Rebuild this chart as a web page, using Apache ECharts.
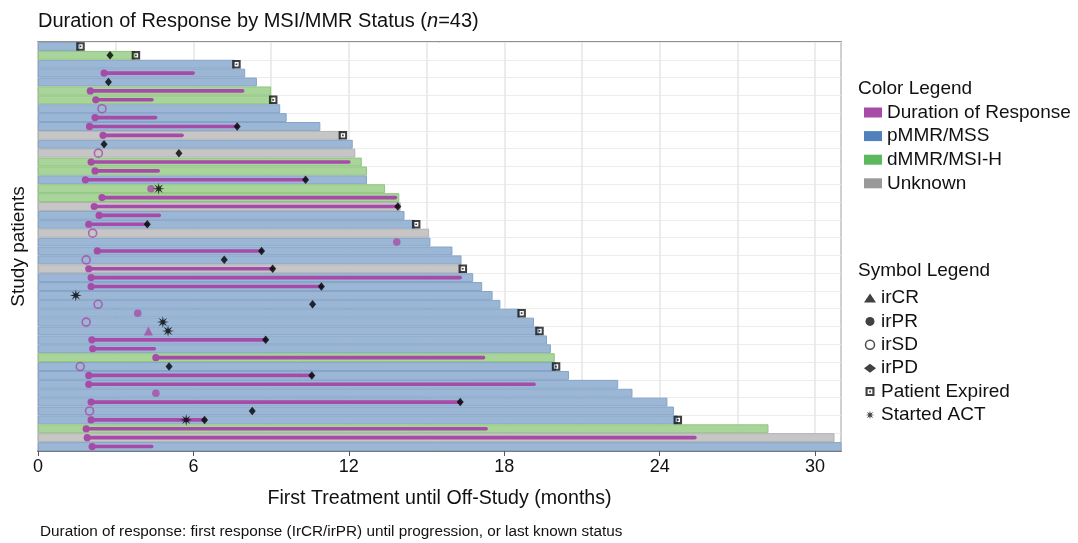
<!DOCTYPE html>
<html>
<head>
<meta charset="utf-8">
<script src="https://cdn.jsdelivr.net/npm/echarts@6/dist/echarts.min.js"></script>
<style>
html,body{margin:0;padding:0;background:#fff;}
#chart{width:1078px;height:543px;}
</style>
</head>
<body>
<div id="chart"></div>
<script>
// ---------- DATA (rows listed top to bottom) ----------
const patients = ['1','2','3','4','5','6','7','8','9','10','11','12','13','14','15','16','17','18','19','20','21','22','23',
  '24','25','26','27','28','29','30','31','32','33','34','35','36','37','38','39','40','41','42','43','44','45','46'];
// P = pMMR/MSS, D = dMMR/MSI-H, U = Unknown
const status = ['P','D','P','P','P','D','D','P','P','P','U','P','U','D','D','P','D','D','U','P','P','U','P',
  'P','P','U','P','P','P','P','P','P','P','P','P','D','P','P','P','P','P','P','P','D','U','P'];
// months from first treatment until off-study
const offStudy = [1.6,3.75,7.6,8.0,8.45,9.0,9.05,9.35,9.6,10.9,11.7,12.15,12.25,12.5,12.7,12.7,13.4,13.95,14.0,14.15,14.55,15.1,15.15,
  16.0,16.35,16.35,16.8,17.15,17.55,17.85,18.6,19.15,19.35,19.65,19.8,19.95,20.0,20.5,22.4,22.95,24.3,24.55,24.7,28.2,30.75,31.3];

// duration of response (row number, start, end)
const dorRow   = [4,6,7,9,10,11,14,15,16,18,19,20,21,24,26,27,28,34,35,36,38,39,41,43,44,45,46];
const dorStart = [2.55,2.02,2.23,2.2,1.99,2.51,2.05,2.2,1.83,2.47,2.17,2.36,1.96,2.29,1.96,2.05,2.05,2.08,2.11,4.55,1.96,1.96,2.05,2.05,1.86,1.9,2.09];
const dorEnd   = [5.99,7.9,4.4,4.54,7.69,5.56,12.0,4.64,10.33,13.8,13.89,4.68,4.22,8.63,9.06,16.3,10.94,8.79,4.49,17.2,10.57,19.15,16.3,6.43,17.3,25.36,4.39];

// symbols (row number, month)
const crRow = [33];                 const crMonth = [4.26];
const prRow = [17,23,31,40];        const prMonth = [4.36,13.85,3.85,4.55];
const sdRow = [8,13,22,25,30,32,37,42];
const sdMonth = [2.47,2.33,2.11,1.86,2.32,1.86,1.63,1.99];
const pdRow = [2,5,10,12,13,16,19,21,24,25,26,28,30,34,37,38,41,42,43];
const pdMonth = [2.78,2.72,7.69,2.55,5.44,10.33,13.89,4.22,8.63,7.19,9.06,10.94,10.6,8.79,5.06,10.57,16.3,8.27,6.43];
const exRow = [1,2,3,7,11,21,26,31,33,37,43];
const exMonth = [1.64,3.78,7.66,9.08,11.77,14.6,16.4,18.67,19.36,20.0,24.7];
const actRow = [17,29,32,33,43];    const actMonth = [4.66,1.46,4.82,5.02,5.72];

const xTicks = [0,6,12,18,24,30];

// ---------- STYLE ----------
const FONT = 'Liberation Sans, Arial, sans-serif';
const MAG = '#a64ca8';
const fills = {P:'#9bb7d5', D:'#a9d59b', U:'#c6c6c6'};
const edges = {P:'#85a4c8', D:'#8fc57f', U:'#b2b2b2'};
const swatch = {P:'#4f81bd', D:'#5cb85c', U:'#999999'};
const names = {P:'pMMR/MSS', D:'dMMR/MSI-H', U:'Unknown'};

function starPath(){
  let d = '';
  const n = 8, ro = 10, ri = 3.4;
  for (let i = 0; i < n*2; i++){
    const a = Math.PI*i/n - Math.PI/2;
    const r = (i%2===0) ? ro : ri;
    const x = (10 + r*Math.cos(a)).toFixed(2), y = (10 + r*Math.sin(a)).toFixed(2);
    d += (i===0 ? 'M' : 'L') + x + ',' + y;
  }
  return 'path://' + d + 'Z';
}
const ACT_SYM = starPath();
const EXP_SYM = 'path://M0,0H10V10H0Z M2.4,2.4V7.6H7.6V2.4Z M4,4H6V6H4Z';

function pts(rows, months){ return rows.map((r,i)=>[months[i], r-1]); }

const barSeries = ['P','D','U'].map(k => ({
  name: names[k], type:'bar', xAxisIndex:0, yAxisIndex:0,
  barGap:'-100%', barCategoryGap:'0%', z:2,
  itemStyle:{color:fills[k], borderColor:edges[k], borderWidth:1},
  emphasis:{disabled:true},
  data: status.map((s,i)=> s===k ? offStudy[i] : '-')
}));

const dorSeries = {
  name:'Duration of Response', type:'custom', z:3, clip:true,
  itemStyle:{color:MAG},
  encode:{x:[0,1], y:2},
  data: dorRow.map((r,i)=>[dorStart[i], dorEnd[i], r-1]),
  renderItem: function(params, api){
    const y = api.value(2);
    const p0 = api.coord([api.value(0), y]);
    const p1 = api.coord([api.value(1), y]);
    return {type:'group', children:[
      {type:'line', shape:{x1:p0[0], y1:p0[1], x2:p1[0], y2:p1[1]}, style:{stroke:MAG, lineWidth:3.6, lineCap:'round'}},
      {type:'circle', shape:{cx:p0[0], cy:p0[1], r:3.6}, style:{fill:MAG}}
    ]};
  }
};

function sc(name, sym, size, style, data, z){
  return {name:name, type:'scatter', symbol:sym, symbolSize:size, z:z||5,
    itemStyle:style, emphasis:{disabled:true}, data:data};
}

const option = {
  animation:false,
  textStyle:{fontFamily:FONT},
  title:{
    left:33, top:6, padding:5,
    text:'{a|Duration of Response by MSI/MMR Status (}{i|n}{a|=43)}',
    textStyle:{fontWeight:'normal', rich:{
      a:{fontSize:20, color:'#111', fontWeight:'normal', fontFamily:FONT},
      i:{fontSize:20, color:'#111', fontWeight:'normal', fontStyle:'italic', fontFamily:FONT}
    }}
  },
  grid:{left:38, right:237, top:42, bottom:92, show:true, borderColor:'#6e6e6e', borderWidth:1.5, backgroundColor:'transparent'},
  xAxis:[
    {type:'value', min:0, max:31, interval:6, position:'bottom',
     axisLine:{show:true, onZero:false, lineStyle:{color:'#555', width:1.5}},
     axisTick:{show:true, length:5, lineStyle:{color:'#555'}},
     axisLabel:{show:true, fontSize:18, color:'#111', margin:7, fontFamily:FONT, showMaxLabel:false,
       formatter: v => xTicks.indexOf(v) >= 0 ? String(v) : ''},
     splitLine:{show:false},
     name:'First Treatment until Off-Study (months)', nameLocation:'middle', nameGap:38,
     nameTextStyle:{fontSize:19.6, color:'#111', fontFamily:FONT}
    },
    {type:'value', min:0, max:31, interval:3, position:'bottom',
     axisLine:{show:false}, axisTick:{show:false}, axisLabel:{show:false},
     splitLine:{show:true, lineStyle:{color:'#e6e6e6', width:1.5}}
    }
  ],
  yAxis:{type:'category', inverse:true, data:patients,
    axisLine:{show:false}, axisTick:{show:false}, axisLabel:{show:false},
    splitLine:{show:true, lineStyle:{color:'#ececec', width:1}},
    name:'Study patients', nameLocation:'middle', nameGap:10, nameRotate:90,
    nameTextStyle:{fontSize:19, color:'#111', fontFamily:FONT}
  },
  legend:[
    {orient:'vertical', left:864, top:103, padding:0, itemGap:4.6, itemWidth:18, itemHeight:10,
     icon:'rect', textStyle:{fontSize:19, color:'#111', fontFamily:FONT}, selectedMode:false,
     data:[
      {name:'Duration of Response', itemStyle:{color:MAG, borderWidth:0}},
      {name:'pMMR/MSS', itemStyle:{color:swatch.P, borderWidth:0}},
      {name:'dMMR/MSI-H', itemStyle:{color:swatch.D, borderWidth:0}},
      {name:'Unknown', itemStyle:{color:swatch.U, borderWidth:0}}
     ]},
    {orient:'vertical', left:864, top:288.5, padding:0, itemGap:4.4, itemWidth:12, itemHeight:9,
     textStyle:{fontSize:19, color:'#111', fontFamily:FONT}, selectedMode:false,
     data:[
      {name:'irCR', icon:'triangle', itemStyle:{color:'#111', borderWidth:0}},
      {name:'irPR', icon:'circle', itemStyle:{color:'#111', borderWidth:0}},
      {name:'irSD', icon:'circle', itemStyle:{color:'#fff', borderColor:'#222', borderWidth:1.5}},
      {name:'irPD', icon:'diamond', itemStyle:{color:'#111', borderWidth:0}},
      {name:'Patient Expired', icon:EXP_SYM, itemStyle:{color:'#111', borderWidth:0}},
      {name:'Started ACT', icon:ACT_SYM, itemStyle:{color:'#111', borderWidth:0}}
     ]}
  ],
  graphic:[
    {type:'text', left:858, top:79, style:{text:'Color Legend', fill:'#111', font:'19px '+FONT}},
    {type:'text', left:858, top:261, style:{text:'Symbol Legend', fill:'#111', font:'19px '+FONT}},
    {type:'text', left:40, top:524, style:{text:'Duration of response: first response (IrCR/irPR) until progression, or last known status', fill:'#111', font:'15.3px '+FONT}}
  ],
  series:[].concat(barSeries, [dorSeries,
    sc('irCR','triangle',9,{color:MAG}, pts(crRow,crMonth)),
    sc('irPR','circle',7.5,{color:MAG}, pts(prRow,prMonth)),
    sc('irSD','circle',8,{color:'rgba(0,0,0,0)', borderColor:MAG, borderWidth:1.6}, pts(sdRow,sdMonth)),
    sc('irPD','diamond',[7,8.5],{color:'#000'}, pts(pdRow,pdMonth), 6),
    sc('Patient Expired',EXP_SYM,8.5,{color:'#111'}, pts(exRow,exMonth), 6),
    sc('Started ACT',ACT_SYM,12,{color:'#000'}, pts(actRow,actMonth), 7)
  ])
};

const chart = echarts.init(document.getElementById('chart'), null, {renderer:'canvas'});
chart.setOption(option);
</script>
</body>
</html>
